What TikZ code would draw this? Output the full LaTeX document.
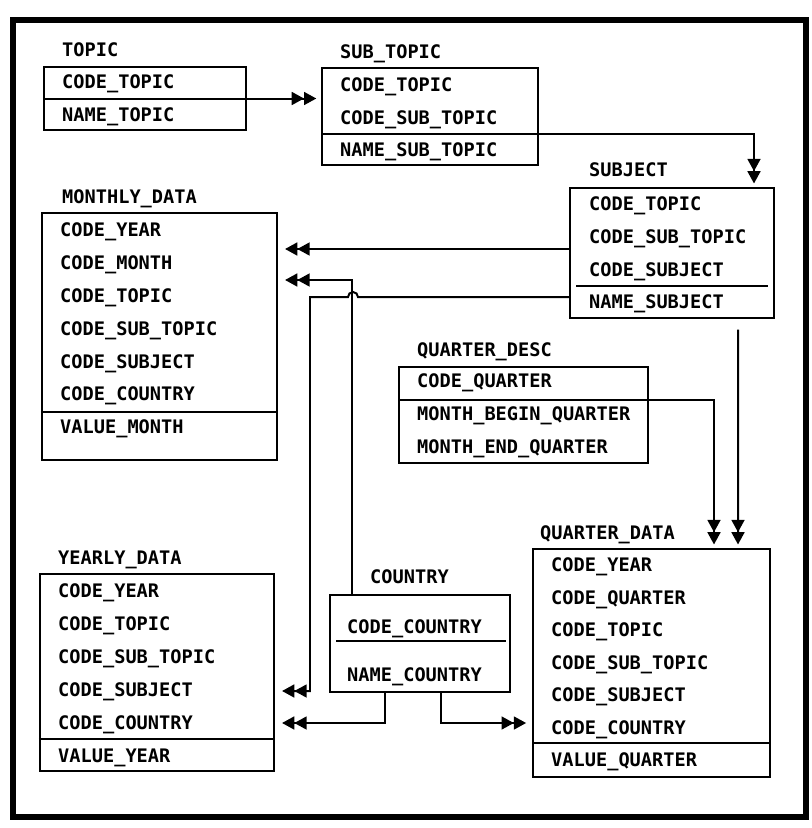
\documentclass[tikz,border=0pt]{standalone}
\usepackage{fontspec}
\setmonofont{DejaVu Sans Mono}
\usepackage{tikz}
\usetikzlibrary{positioning}
\usetikzlibrary{arrows.meta,calc}

\newcommand{\fldfont}{\ttfamily\bfseries\fontsize{15.9}{18}\selectfont}

\begin{document}
\begin{tikzpicture}[%
    x=0.03cm, y=-0.03cm,
    tbl/.style={draw,rectangle,line width=1.7pt,inner sep=0pt},
    fld/.style={anchor=west,inner sep=0pt,text height=11.6pt,text depth=0pt,font=\fldfont},
    sep/.style={line width=1.7pt},
    dbl/.style={line width=1.7pt,-{Triangle[length=10.5pt,width=11pt]Triangle[length=10.5pt,width=11pt]}}
]
\useasboundingbox (0,0) rectangle (812,828);
\draw[line width=5pt] (13,20) rectangle (806,817);

% ---------------- TOPIC ----------------
\node[tbl,minimum width=6.06cm,minimum height=1.89cm] (topic) at (145,98.5) {};
\node[fld] (topic-t) at (62,50) {TOPIC};
\foreach \r [count=\i] in {CODE\_TOPIC,NAME\_TOPIC} {
    \node[fld] (topic-\i) at (62,{82+33*(\i-1)}) {\r};
}
\draw[sep] (topic.west) -- (topic.east);

% ---------------- SUB_TOPIC ----------------
\node[tbl,minimum width=6.48cm,minimum height=2.91cm] (subtopic) at (430,116.5) {};
\node[fld] (subtopic-t) at (340,52) {SUB\_TOPIC};
\foreach \r [count=\i] in {CODE\_TOPIC,CODE\_SUB\_TOPIC,NAME\_SUB\_TOPIC} {
    \node[fld] (subtopic-\i) at (340,{85+32.5*(\i-1)}) {\r};
}
\draw[sep] (subtopic.west |- 0,134) -- (subtopic.east |- 0,134);

% ---------------- SUBJECT ----------------
\node[tbl,minimum width=6.12cm,minimum height=3.9cm] (subject) at (672,253) {};
\node[fld] (subject-t) at (589,170) {SUBJECT};
\foreach \r [count=\i] in {CODE\_TOPIC,CODE\_SUB\_TOPIC,CODE\_SUBJECT,NAME\_SUBJECT} {
    \node[fld] (subject-\i) at (589,{204+32.7*(\i-1)}) {\r};
}
\draw[sep] ($(subject.west |- 0,286)+(7,0)$) -- ($(subject.east |- 0,286)+(-7,0)$);

% ---------------- MONTHLY_DATA ----------------
\node[tbl,minimum width=7.05cm,minimum height=7.41cm] (monthly) at (159.5,336.5) {};
\node[fld] (monthly-t) at (62,197) {MONTHLY\_DATA};
\foreach \r [count=\i] in {CODE\_YEAR,CODE\_MONTH,CODE\_TOPIC,CODE\_SUB\_TOPIC,CODE\_SUBJECT,CODE\_COUNTRY,VALUE\_MONTH} {
    \node[fld] (monthly-\i) at (60,{230+32.8*(\i-1)}) {\r};
}
\draw[sep] (monthly.west |- 0,412) -- (monthly.east |- 0,412);

% ---------------- QUARTER_DESC ----------------
\node[tbl,minimum width=7.47cm,minimum height=2.88cm] (qdesc) at (523.5,415) {};
\node[fld] (qdesc-t) at (417,350) {QUARTER\_DESC};
\foreach \r [count=\i] in {CODE\_QUARTER,MONTH\_BEGIN\_QUARTER,MONTH\_END\_QUARTER} {
    \node[fld] (qdesc-\i) at (417,{381+33*(\i-1)}) {\r};
}
\draw[sep] (qdesc.west |- 0,400) -- (qdesc.east |- 0,400);

% ---------------- QUARTER_DATA ----------------
\node[tbl,minimum width=7.11cm,minimum height=6.84cm] (qdata) at (651.5,663) {};
\node[fld] (qdata-t) at (540,533) {QUARTER\_DATA};
\foreach \r [count=\i] in {CODE\_YEAR,CODE\_QUARTER,CODE\_TOPIC,CODE\_SUB\_TOPIC,CODE\_SUBJECT,CODE\_COUNTRY,VALUE\_QUARTER} {
    \node[fld] (qdata-\i) at (551,{565+32.5*(\i-1)}) {\r};
}
\draw[sep] (qdata.west |- 0,743) -- (qdata.east |- 0,743);

% ---------------- YEARLY_DATA ----------------
\node[tbl,minimum width=7.02cm,minimum height=5.91cm] (yearly) at (157,672.5) {};
\node[fld] (yearly-t) at (58,558) {YEARLY\_DATA};
\foreach \r [count=\i] in {CODE\_YEAR,CODE\_TOPIC,CODE\_SUB\_TOPIC,CODE\_SUBJECT,CODE\_COUNTRY,VALUE\_YEAR} {
    \node[fld] (yearly-\i) at (58,{591+33*(\i-1)}) {\r};
}
\draw[sep] (yearly.west |- 0,739) -- (yearly.east |- 0,739);

% ---------------- COUNTRY ----------------
\node[tbl,minimum width=5.4cm,minimum height=2.91cm] (country) at (420,643.5) {};
\node[fld] (country-t) at (370,577) {COUNTRY};
\foreach \r [count=\i] in {CODE\_COUNTRY,NAME\_COUNTRY} {
    \node[fld] (country-\i) at (347,{627+48*(\i-1)}) {\r};
}
\draw[sep] ($(country.west |- 0,641)+(7,0)$) -- ($(country.east |- 0,641)+(-5,0)$);

% ---------------- Connections ----------------
\coordinate (hop) at (353,297);
\draw[dbl,shorten >=4pt] (topic.east) -- (subtopic.west |- topic.east);
\draw[dbl,shorten >=3pt] (subtopic.east |- 0,134) -| ($(subject.north east)+(-21,0)$);
\draw[dbl,shorten >=6pt] (subject.west |- 0,249) -- (monthly.east |- 0,249);
\draw[dbl,shorten >=6pt] ($(country.north west)+(23,0)$) |- (monthly.east |- 0,280);
\draw[dbl,shorten >=6pt] (subject.west |- hop) -- ($(hop)+(5,0)$) arc (0:-180:5)
    -- (310,297) |- (yearly.east |- 0,691);
\draw[dbl,shorten <=9pt,shorten >=3pt] ($(subject.south west)+(169,0)$) -- ($(qdata.north west)+(206,0)$);
\draw[dbl,shorten >=3pt] (qdesc.east |- 0,400) -| ($(qdata.north west)+(182,0)$);
\draw[dbl,shorten >=6pt] ($(country.south west)+(56,0)$) |- (yearly.east |- 0,723);
\draw[dbl,shorten >=5pt] ($(country.south west)+(112,0)$) |- (qdata.west |- 0,723);

\end{tikzpicture}
\end{document}
